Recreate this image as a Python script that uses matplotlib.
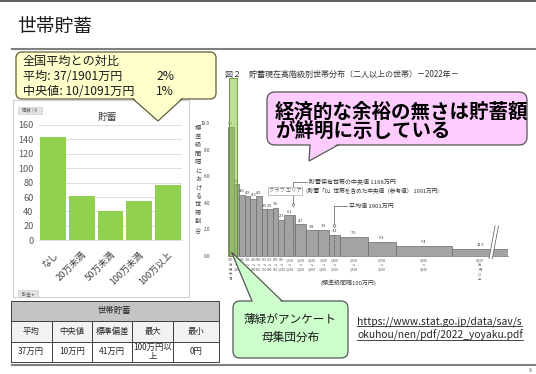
import matplotlib
matplotlib.use('Agg')
import matplotlib.pyplot as plt
from matplotlib.patches import FancyBboxPatch, Polygon, Rectangle

plt.rcParams['font.family'] = ['Noto Sans CJK JP', 'DejaVu Sans']

# ---------------- data ----------------
page_title = '世帯貯蓄'
savings_cats = ['なし', '20万未満', '50万未満', '100万未満', '100万以上']
savings_counts = [144, 61, 41, 55, 77]
pivot_yticks = [0, 20, 40, 60, 80, 100, 120, 140, 160]

table_title = '世帯貯蓄'
table_headers = ['平均', '中央値', '標準偏差', '最大', '最小']
table_values = ['37万円', '10万円', '41万円', '100万円以\n上', '0円']

compare_lines = ['全国平均との対比', '平均: 37/1901万円', '中央値: 10/1091万円']
compare_pct = ['2%', '1%']

hist_title = '図２　貯蓄現在高階級別世帯分布（二人以上の世帯）－2022年－'
hist_lo = [0, 100, 200, 300, 400, 500, 600, 700, 800, 900, 1000, 1200, 1400, 1600, 1800, 2000, 2500, 3000, 4000]
hist_hi = [100, 200, 300, 400, 500, 600, 700, 800, 900, 1000, 1200, 1400, 1600, 1800, 2000, 2500, 3000, 4000, 5000]
hist_pct = [9.7, 5.4, 4.6, 4.5, 4.3, 4.5, 3.5, 3.5, 3.6, 2.7, 6.1, 4.7, 3.8, 3.9, 3.1, 7.0, 5.3, 7.4, 12.5]
hist_height = [9.7, 5.4, 4.6, 4.5, 4.3, 4.5, 3.5, 3.5, 3.6, 2.7, 3.05, 2.35, 1.9, 1.95, 1.55, 1.4, 1.06, 0.74, 0.5]
hist_yticks = [0, 2, 4, 6, 8, 10]
median_holders = 1168
median_all = 1091
mean_value = 1901
survey_range = [20, 160]   # light-green survey population column (万円)
survey_top = 13.45

pink_lines = ['経済的な余裕の無さは貯蓄額', 'が鮮明に示している']
green_lines = ['薄緑がアンケート', '母集団分布']
url_lines = ['https://www.stat.go.jp/data/sav/s', 'okuhou/nen/pdf/2022_yoyaku.pdf']

# ---------------- figure ----------------
W, H = 536, 374
fig = plt.figure(figsize=(W / 100, H / 100), dpi=100)
fig.patch.set_facecolor('white')


def px_axes(x0, y0, x1, y1, **kw):
    return fig.add_axes([x0 / W, 1 - y1 / H, (x1 - x0) / W, (y1 - y0) / H], **kw)


bg = px_axes(0, 0, W, H, zorder=0)
bg.set_xlim(0, W); bg.set_ylim(H, 0); bg.axis('off')
top = px_axes(0, 0, W, H, zorder=10)
top.set_xlim(0, W); top.set_ylim(H, 0); top.axis('off'); top.patch.set_alpha(0)

# slide frame lines
bg.plot([0, W], [0.7, 0.7], color='#404040', lw=1.2)
bg.plot([12, W], [48.5, 48.5], color='#7F7F7F', lw=1.5)
bg.plot([12, W], [365, 365], color='#7F7F7F', lw=1.5)
bg.text(17, 26, page_title, fontsize=13.5, color='#1a1a1a', va='center', ha='left')
bg.text(530, 371, '9', fontsize=3.5, color='#444444', ha='center', va='center')

# ---------------- pivot chart ----------------
bg.add_patch(Rectangle((12.7, 100), 176.3, 197, fc='white', ec='#D0D0D0', lw=0.8))
bg.add_patch(Rectangle((18, 106.5), 24, 7.5, fc='#E3E3E3', ec='#C8C8C8', lw=0.4))
bg.text(30, 110.3, '個数 / #', fontsize=3.2, color='#555555', ha='center', va='center')
bg.add_patch(Rectangle((18, 289.5), 20, 7.5, fc='#E3E3E3', ec='#C8C8C8', lw=0.4))
bg.text(28, 293.3, '貯金 ▾', fontsize=3.2, color='#555555', ha='center', va='center')
bg.text(107, 116.5, '貯蓄', fontsize=7, color='#404040', ha='center', va='center')

pv = px_axes(39, 125, 182, 240.3, zorder=1)
pv.bar(range(len(savings_cats)), savings_counts, width=0.9, color='#92D050', zorder=2)
pv.set_xlim(-0.5, len(savings_cats) - 0.5)
pv.set_ylim(0, 160)
pv.set_yticks(pivot_yticks)
pv.set_yticklabels([str(v) for v in pivot_yticks], fontsize=6.6, color='#595959')
pv.set_xticks(range(len(savings_cats)))
pv.set_xticklabels(savings_cats, rotation=45, ha='right', rotation_mode='anchor',
                   fontsize=6.6, color='#404040')
pv.tick_params(axis='both', length=0)
pv.tick_params(axis='y', pad=4)
pv.tick_params(axis='x', pad=7)
pv.grid(axis='y', color='#D9D9D9', lw=0.6, zorder=0)
for s in ['top', 'right', 'left']:
    pv.spines[s].set_visible(False)
pv.spines['bottom'].set_color('#D9D9D9')
pv.spines['bottom'].set_linewidth(0.6)
pv.set_axisbelow(True)

# ---------------- table ----------------
col_x = [10.7, 51.7, 91.7, 132.3, 173.3, 219]
row_y = [300.7, 321, 341.7, 361.7]
bg.add_patch(Rectangle((col_x[0], row_y[0]), col_x[-1] - col_x[0], row_y[1] - row_y[0],
                       fc='#C4C4C4', ec='#404040', lw=0.7))
bg.text((col_x[0] + col_x[-1]) / 2, (row_y[0] + row_y[1]) / 2, table_title,
        fontsize=6, color='#262626', ha='center', va='center')
for i in range(5):
    bg.add_patch(Rectangle((col_x[i], row_y[1]), col_x[i + 1] - col_x[i], row_y[2] - row_y[1],
                           fc='#F2F2F2', ec='#404040', lw=0.7))
    bg.add_patch(Rectangle((col_x[i], row_y[2]), col_x[i + 1] - col_x[i], row_y[3] - row_y[2],
                           fc='white', ec='#404040', lw=0.7))
    cx = (col_x[i] + col_x[i + 1]) / 2
    bg.text(cx, (row_y[1] + row_y[2]) / 2, table_headers[i], fontsize=6, color='#262626',
            ha='center', va='center')
    bg.text(cx, (row_y[2] + row_y[3]) / 2, table_values[i], fontsize=6, color='#262626',
            ha='center', va='center', linespacing=1.0)

# ---------------- histogram (embedded figure) ----------------
hx = px_axes(228, 123.5, 508, 255.5, zorder=1)
hx.set_xlim(0, 5000)
hx.set_ylim(0, 10)
hx.patch.set_alpha(0)
widths = [b - a for a, b in zip(hist_lo, hist_hi)]
hx.bar(hist_lo, hist_height, width=widths, align='edge', color='#A3A3A3',
       edgecolor='#6A6A6A', lw=0.5, zorder=2)
for lo, w, h, p in zip(hist_lo, widths, hist_height, hist_pct):
    hx.text(lo + w / 2, h + 0.12, f'{p:.1f}', fontsize=2.8, color='#333333',
            ha='center', va='bottom', zorder=3)
hx.plot([0, 5000], [0, 0], color='#7F7F7F', lw=0.6, zorder=3, clip_on=False)
hx.set_yticks(hist_yticks)
hx.set_yticklabels([f'{v:.1f}' for v in hist_yticks], fontsize=3.4, color='#444444')
hx.tick_params(axis='y', length=0, pad=13)
hx.set_xticks([])
for s in hx.spines.values():
    s.set_visible(False)

# bin labels
for i, (lo, hi) in enumerate(zip(hist_lo, hist_hi)):
    if i == 0:
        lab = f'{hi}\n万\n円\n未\n満'
    elif i == len(hist_lo) - 1:
        lab = f'{lo:,}\n万\n円\n以\n上'
    else:
        lab = f'{lo:,}\n～\n{hi:,}'
    hx.text((lo + hi) / 2, -0.2, lab, fontsize=2.4, color='#555555', ha='center', va='top',
            linespacing=1.25, clip_on=False)

# median / mean dotted lines
hx.plot([median_holders, median_holders], [0, 3.05], color='#333333', lw=0.6, ls=':', zorder=3)
hx.plot([mean_value, mean_value], [0, 1.55], color='#333333', lw=0.6, ls=':', zorder=3)

# annotations
hx.plot([median_holders, median_holders, 1410], [3.8, 5.59, 5.59], color='#555555', lw=0.5,
        clip_on=False, zorder=4)
hx.plot([median_holders], [3.8], marker='v', ms=2.2, mfc='white', mec='#555555', mew=0.4,
        clip_on=False, zorder=4)
hx.text(1445, 5.59, f'貯蓄保有世帯の中央値 {median_holders}万円', fontsize=4.3, color='#333333',
        va='center', ha='left', clip_on=False)
hx.text(1390, 4.86, f'(貯蓄「0」世帯を含めた中央値（参考値） {median_all}万円)', fontsize=4.1,
        color='#333333', va='center', ha='left', clip_on=False)
hx.plot([mean_value, mean_value, 2130], [2.2, 3.75, 3.75], color='#555555', lw=0.5,
        clip_on=False, zorder=4)
hx.plot([mean_value], [2.2], marker='v', ms=2.2, mfc='white', mec='#555555', mew=0.4,
        clip_on=False, zorder=4)
hx.text(2160, 3.75, f'平均値 {mean_value}万円', fontsize=4.3, color='#333333',
        va='center', ha='left', clip_on=False)

# axis break on the open-ended class
hx.add_patch(Polygon([(4660, -0.25), (4770, 2.25), (4830, 2.25), (4720, -0.25)],
                     closed=True, fc='white', ec='none', zorder=5, clip_on=False))
hx.plot([4660, 4770], [-0.25, 2.25], color='#555555', lw=0.5, zorder=6, clip_on=False)
hx.plot([4720, 4830], [-0.25, 2.25], color='#555555', lw=0.5, zorder=6, clip_on=False)

# survey population overlay (light green column)
hx.add_patch(Rectangle((survey_range[0], 0), survey_range[1] - survey_range[0], survey_top,
                       fc='#8CCB48', alpha=0.58, ec='none', zorder=7, clip_on=False))
hx.add_patch(Rectangle((survey_range[0], 0), survey_range[1] - survey_range[0], survey_top,
                       fc='none', ec='#5E9232', lw=0.6, zorder=7, clip_on=False))

# figure texts of the embedded chart
bg.text(225, 74, hist_title, fontsize=5.8, color='#333333', ha='left', va='center')
bg.text(198, 179, '\n'.join('標準級間隔における世帯割合'), fontsize=4.5, color='#444444',
        ha='center', va='center', linespacing=1.08)
bg.text(348, 283, '(標準級間隔100万円)', fontsize=4.3, color='#444444', ha='center', va='center')

# "グラフ エリア" tooltip
top.add_patch(Rectangle((268, 186.7), 34, 8.5, fc='white', ec='#A8A8A8', lw=0.5, zorder=1))
top.text(285, 191, 'グラフ エリア', fontsize=3.8, color='#666666', ha='center', va='center', zorder=2)


# ---------------- callouts ----------------
def callout(ax, x0, y0, x1, y1, base, apex, fc, ec, r=6, lw=0.9, z=3):
    ax.add_patch(FancyBboxPatch((x0, y0), x1 - x0, y1 - y0,
                                boxstyle=f'round,pad=0,rounding_size={r}',
                                fc=fc, ec=ec, lw=lw, zorder=z))
    (bx0, by), (bx1, _) = base
    inner = by - 1.5 if by > (y0 + y1) / 2 else by + 1.5
    ax.add_patch(Polygon([(bx0, inner), (bx1, inner), apex], closed=True, fc=fc, ec='none',
                         zorder=z + 0.1))
    ax.plot([bx0, apex[0], bx1], [by, apex[1], by], color=ec, lw=lw, zorder=z + 0.2,
            solid_joinstyle='miter')


# yellow
callout(top, 16, 52, 216, 99, [(133, 99), (182, 99)], (158, 121), '#FFFFCC', '#5E5E3C')
ys = 8.7
top.text(23, 61, compare_lines[0], fontsize=ys, color='#1a1a1a', va='center', ha='left', zorder=5)
top.text(23, 76.5, compare_lines[1], fontsize=ys, color='#1a1a1a', va='center', ha='left', zorder=5)
top.text(23, 91, compare_lines[2], fontsize=ys, color='#1a1a1a', va='center', ha='left', zorder=5)
top.text(156, 76.5, compare_pct[0], fontsize=ys, color='#1a1a1a', va='center', ha='left', zorder=5)
top.text(156, 91, compare_pct[1], fontsize=ys, color='#1a1a1a', va='center', ha='left', zorder=5)

# pink
callout(top, 267, 92, 527, 145, [(310, 145), (338, 145)], (309, 161), '#FFCCFF', '#555555', r=8)
top.text(275, 111.5, pink_lines[0], fontsize=14, fontweight='bold', color='#000000',
         va='center', ha='left', zorder=5)
top.text(275, 131, pink_lines[1], fontsize=14, fontweight='bold', color='#000000',
         va='center', ha='left', zorder=5)

# green
callout(top, 233, 301, 348, 358, [(252, 301), (282, 301)], (231.5, 252), '#CCFFCC', '#555555', r=7)
top.text(290.5, 319.5, green_lines[0], fontsize=8.4, color='#1a1a1a', va='center', ha='center', zorder=5)
top.text(290.5, 337.5, green_lines[1], fontsize=8.4, color='#1a1a1a', va='center', ha='center', zorder=5)

# url (underlined)
url_texts = []
for i, line in enumerate(url_lines):
    t = bg.text(357, 322 + 13 * i, line, fontsize=7.4, color='#262626', ha='left', va='center')
    url_texts.append(t)
fig.canvas.draw()
rend = fig.canvas.get_renderer()
for t in url_texts:
    bb = t.get_window_extent(renderer=rend)
    yb = H - bb.y0
    bg.plot([bb.x0, bb.x1], [yb - 1.2, yb - 1.2], color='#262626', lw=0.6)

fig.savefig('out.png', dpi=100, facecolor='white')
